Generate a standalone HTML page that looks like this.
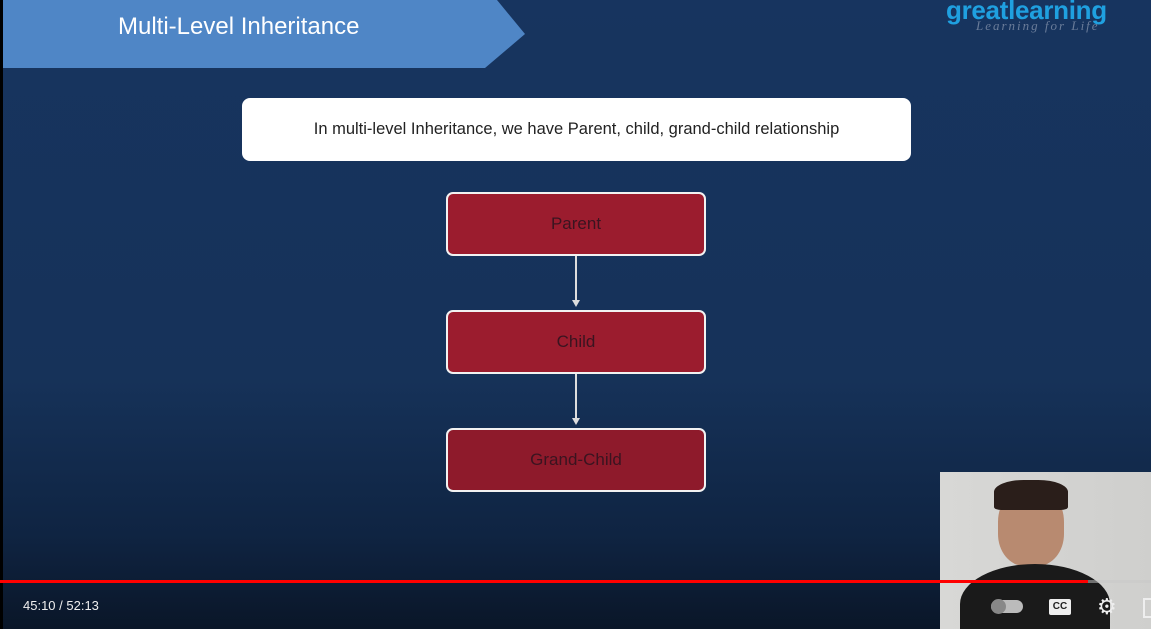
<!DOCTYPE html>
<html><head><meta charset="utf-8"><style>
html,body{margin:0;width:1151px;height:629px;overflow:hidden}
body{position:relative;font-family:"Liberation Sans",sans-serif;background:#000}
.slide{position:absolute;left:3px;top:0;width:1148px;height:629px;background:linear-gradient(#17345f 0%,#163259 60%,#0f2442 85%,#0a1628 100%)}
.box{position:absolute;left:446px;width:260px;height:64px;background:#9b1c2e;border:2px solid #f2f2f2;border-radius:7px;box-sizing:border-box;color:#3a1420;font-size:17px;display:flex;align-items:center;justify-content:center}
.arrow{position:absolute;left:575px;width:2px;background:#ddd}
</style></head><body>
<div class="slide"></div>
<svg style="position:absolute;left:0;top:0" width="540" height="70"><polygon points="3,0 497,0 525,34 485,68 3,68" fill="#4f86c6"/></svg>
<div style="position:absolute;left:118px;top:13px;color:#fff;font-size:24px">Multi-Level Inheritance</div>
<div style="position:absolute;left:946px;top:-5px;color:#1fa0e0;font-size:26px;font-weight:bold;letter-spacing:-0.3px">greatlearning</div>
<div style="position:absolute;left:976px;top:18px;color:#6a7c99;font-size:13px;font-style:italic;font-family:'Liberation Serif',serif;letter-spacing:2px">Learning for Life</div>
<div style="position:absolute;left:242px;top:98px;width:669px;height:63px;background:#fff;border-radius:8px;display:flex;align-items:center;justify-content:center;font-size:16.5px;color:#222">In multi-level Inheritance, we have Parent, child, grand-child relationship</div>
<div class="box" style="top:192px">Parent</div>
<div class="arrow" style="top:256px;height:46px"></div>
<div style="position:absolute;left:572px;top:300px;border:4px solid transparent;border-top:7px solid #ddd"></div>
<div class="box" style="top:310px">Child</div>
<div class="arrow" style="top:374px;height:46px"></div>
<div style="position:absolute;left:572px;top:418px;border:4px solid transparent;border-top:7px solid #ddd"></div>
<div class="box" style="top:428px;background:#8e1a2b">Grand-Child</div>
<div style="position:absolute;left:940px;top:472px;width:211px;height:157px;overflow:hidden;background:linear-gradient(90deg,#d8d8d6,#cfcfcd)">
<div style="position:absolute;left:58px;top:14px;width:66px;height:80px;background:#b88a70;border-radius:45% 45% 40% 40%"></div>
<div style="position:absolute;left:54px;top:8px;width:74px;height:30px;background:#2a1e1a;border-radius:40% 40% 10% 10%"></div>
<div style="position:absolute;left:20px;top:92px;width:150px;height:80px;background:#1a1a1a;border-radius:50% 50% 0 0"></div>
</div>
<div style="position:absolute;left:0;top:580px;width:1151px;height:3px;background:rgba(200,200,200,.5)"></div>
<div style="position:absolute;left:0;top:580px;width:1088px;height:3px;background:#f00"></div>
<div style="position:absolute;left:23px;top:598px;color:#eee;font-size:13px">45:10 / 52:13</div>
<div style="position:absolute;left:991px;top:600px;width:32px;height:13px;background:#bbb;border-radius:7px"><div style="width:15px;height:15px;margin-top:-1px;background:#888;border-radius:50%"></div></div>
<div style="position:absolute;left:1049px;top:599px;width:22px;height:16px;background:#eee;border-radius:2px;color:#222;font-size:10px;font-weight:bold;text-align:center;line-height:16px">CC</div>
<div style="position:absolute;left:1097px;top:594px;color:#eee;font-size:22px">⚙</div>
<div style="position:absolute;left:1143px;top:598px;width:10px;height:16px;border:2px solid #eee"></div>
</body></html>
